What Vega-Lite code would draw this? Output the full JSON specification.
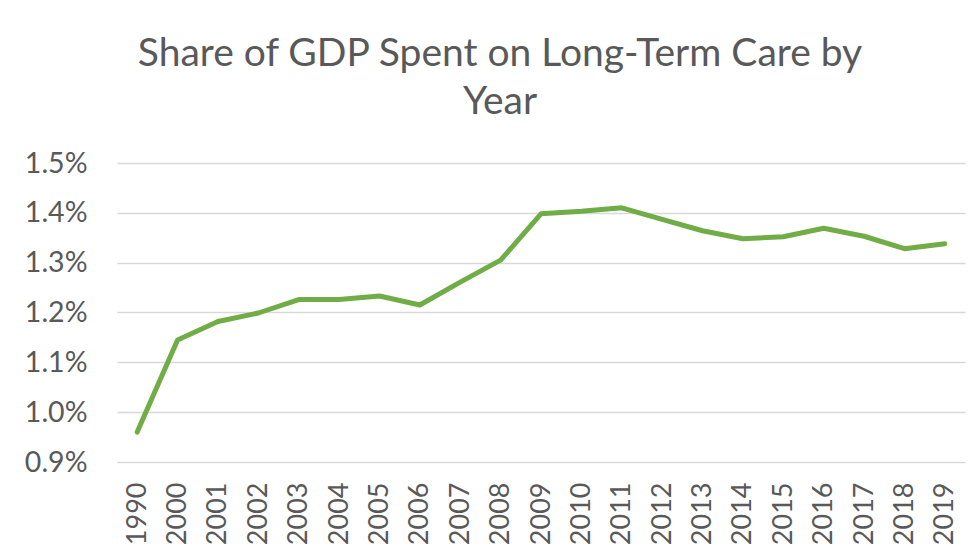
{
  "$schema": "https://vega.github.io/schema/vega-lite/v6.json",
  "width": 848,
  "height": 299,
  "autosize": {"type": "none"},
  "padding": {"left": 117, "top": 163, "right": 15, "bottom": 98},
  "background": "white",
  "title": {
    "text": ["Share of GDP Spent on Long-Term Care by", "Year"],
    "font": "Lato",
    "fontSize": 39,
    "fontWeight": "normal",
    "color": "#595959",
    "anchor": "middle",
    "frame": "group",
    "dx": -41,
    "offset": 27,
    "lineHeight": 48
  },
  "data": {
    "values": [
      {"year": "1990", "share": 0.00960},
      {"year": "2000", "share": 0.01145},
      {"year": "2001", "share": 0.01182},
      {"year": "2002", "share": 0.01199},
      {"year": "2003", "share": 0.01226},
      {"year": "2004", "share": 0.01226},
      {"year": "2005", "share": 0.01233},
      {"year": "2006", "share": 0.01215},
      {"year": "2007", "share": 0.01261},
      {"year": "2008", "share": 0.01305},
      {"year": "2009", "share": 0.01398},
      {"year": "2010", "share": 0.01403},
      {"year": "2011", "share": 0.01410},
      {"year": "2012", "share": 0.01387},
      {"year": "2013", "share": 0.01364},
      {"year": "2014", "share": 0.01348},
      {"year": "2015", "share": 0.01352},
      {"year": "2016", "share": 0.01369},
      {"year": "2017", "share": 0.01353},
      {"year": "2018", "share": 0.01328},
      {"year": "2019", "share": 0.01338}
    ]
  },
  "mark": {"type": "line", "color": "#70AD47", "strokeWidth": 5, "strokeJoin": "round", "strokeCap": "round"},
  "encoding": {
    "x": {
      "field": "year",
      "type": "ordinal",
      "sort": null,
      "scale": {"type": "point", "padding": 0.5},
      "axis": {
        "title": null,
        "labelAngle": -90,
        "labelFont": "Lato",
        "labelFontSize": 27,
        "labelColor": "#595959",
        "labelPadding": 20,
        "ticks": false,
        "domain": false,
        "grid": false
      }
    },
    "y": {
      "field": "share",
      "type": "quantitative",
      "scale": {"domain": [0.009, 0.015], "nice": false, "zero": false},
      "axis": {
        "title": null,
        "values": [0.009, 0.010, 0.011, 0.012, 0.013, 0.014, 0.015],
        "format": ".1%",
        "labelFont": "Lato",
        "labelFontSize": 28.5,
        "labelColor": "#595959",
        "labelPadding": 30,
        "ticks": false,
        "domain": false,
        "grid": true,
        "gridColor": "#D9D9D9",
        "gridWidth": 1.5
      }
    }
  },
  "config": {"view": {"stroke": null}}
}
